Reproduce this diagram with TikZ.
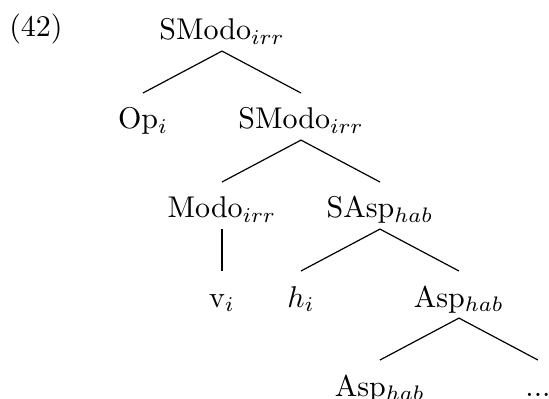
\documentclass[tikz,border=0pt]{standalone}
\begin{document}
\begin{tikzpicture}[
    cat/.style={anchor=base,text height=9.8pt,text depth=1.5pt,inner xsep=0pt,inner ysep=2pt},
    branch/.style={thin}]
    \useasboundingbox (0,0) rectangle (183pt,-133pt);
    \node[cat] (ex) at (12pt,-12.3pt) {(42)};
    \begin{scope}[shift={(47.67pt,-13.33pt)},x=26.33pt,y=-29.67pt]
      \node[cat] (smodo) at (1,0) {SModo$_{irr}$};
      \node[cat] (op) at (0,1) {Op$_i$};
      \node[cat] (smodob) at (2,1) {SModo$_{irr}$};
      \node[cat] (modo) at (1,2) {Modo$_{irr}$};
      \node[cat] (sasp) at (3,2) {SAsp$_{hab}$};
      \node[cat] (v) at (1,3) {v$_i$};
      \node[cat] (h) at (2,3) {$h_i$};
      \node[cat] (asp) at (4,3) {Asp$_{hab}$};
      \node[cat] (aspb) at (3,4) {Asp$_{hab}$};
      \node[cat] (dots) at (5,4) {...};
      %
      \draw[branch] (op.north) -- (smodo.south) -- (smodob.north);
      \draw[branch] (modo.north) -- (smodob.south) -- (sasp.north);
      \draw[branch] (modo.south) -- (v.north);
      \draw[branch] (h.north) -- (sasp.south) -- (asp.north);
      \draw[branch] (aspb.north) -- (asp.south) -- (dots.north);
    \end{scope}
\end{tikzpicture}
\end{document}
